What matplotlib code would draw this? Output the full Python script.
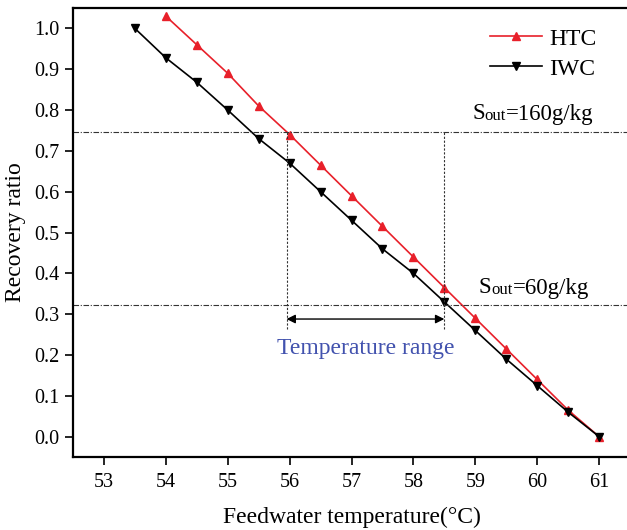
import matplotlib
matplotlib.use("Agg")
import matplotlib.pyplot as plt

# data
htc_temp = [54.0, 54.5, 55.0, 55.5, 56.0, 56.5, 57.0, 57.5, 58.0, 58.5, 59.0, 59.5, 60.0, 60.5, 61.0]
htc_ratio = [1.03, 0.96, 0.89, 0.81, 0.74, 0.665, 0.59, 0.515, 0.44, 0.365, 0.29, 0.215, 0.14, 0.065, 0.0]
iwc_temp = [53.5, 54.0, 54.5, 55.0, 55.5, 56.0, 56.5, 57.0, 57.5, 58.0, 58.5, 59.0, 59.5, 60.0, 60.5, 61.0]
iwc_ratio = [1.0, 0.928, 0.868, 0.80, 0.73, 0.67, 0.60, 0.53, 0.46, 0.40, 0.33, 0.26, 0.19, 0.125, 0.06, 0.0]

x_ticks = [53, 54, 55, 56, 57, 58, 59, 60, 61]
y_ticks = [0.0, 0.1, 0.2, 0.3, 0.4, 0.5, 0.6, 0.7, 0.8, 0.9, 1.0]

s_high, s_low = 0.747, 0.322       # Sout = 160 / 60 g/kg levels
t_low, t_high = 55.95, 58.5        # temperature range
v_bottom = 0.264
arrow_y = 0.288

plt.rcParams["font.family"] = ["Liberation Serif", "DejaVu Serif"]

fig = plt.figure(figsize=(6.27, 5.30), dpi=100)
ax = fig.add_axes([73 / 627, 1 - 457 / 530, 557 / 627, 449 / 530])

red = "#e8202a"
ax.plot(htc_temp, htc_ratio, color=red, lw=1.2, marker="^", ms=5.5, label="HTC")
ax.plot(iwc_temp, iwc_ratio, color="black", lw=1.2, marker="v", ms=5.5, label="IWC")

dashdot = (0, (5, 1.5, 1, 1.5))
ax.axhline(s_high, color="#333333", lw=0.8, ls=dashdot)
ax.axhline(s_low, color="#333333", lw=0.8, ls=dashdot)
for t in (t_low, t_high):
    ax.plot([t, t], [v_bottom, s_high], color="#333333", lw=0.8, ls=(0, (2, 1.5)))

ax.annotate("", xy=(t_high, arrow_y), xytext=(t_low, arrow_y),
            arrowprops=dict(arrowstyle="<|-|>", color="black", lw=1.0,
                            mutation_scale=13, shrinkA=0, shrinkB=0))
ax.text((t_low + t_high) / 2, 0.215, "Temperature range", color="#4252ae",
        fontsize=17, ha="center", va="center")


def sout_label(x, y, rest):
    t1 = ax.text(x, y, "S", fontsize=16.5, ha="left", va="baseline")
    t2 = ax.annotate("out", xy=(1, 0), xycoords=t1, fontsize=12, ha="left", va="bottom")
    ax.annotate(rest, xy=(1, 0), xycoords=t2, fontsize=16.5, ha="left", va="bottom",
                xytext=(0, -1.2), textcoords="offset points")


sout_label(58.95, 0.779, "=160g/kg")
sout_label(59.06, 0.3525, "=60g/kg")

ax.set_xlim(52.5, 61.5)
ax.set_ylim(-0.05, 1.05)
ax.set_xticks(x_ticks)
ax.set_yticks(y_ticks)
ax.set_yticklabels([f"{v:.1f}" for v in y_ticks])
ax.tick_params(direction="out", length=5.5, width=1.2, labelsize=14.5, pad=4)
ax.tick_params(axis="x", pad=6)
for sp in ax.spines.values():
    sp.set_linewidth(1.6)

ax.set_xlabel("Feedwater temperature(°C)", fontsize=17, labelpad=11)
ax.set_ylabel("Recovery ratio", fontsize=17, labelpad=6)

ax.legend(loc="upper left", bbox_to_anchor=(0.749, 0.955), frameon=False,
          fontsize=17, handlelength=2.2, handletextpad=0.3, labelspacing=0.36,
          borderpad=0, borderaxespad=0)

fig.savefig("out.png", dpi=100)
